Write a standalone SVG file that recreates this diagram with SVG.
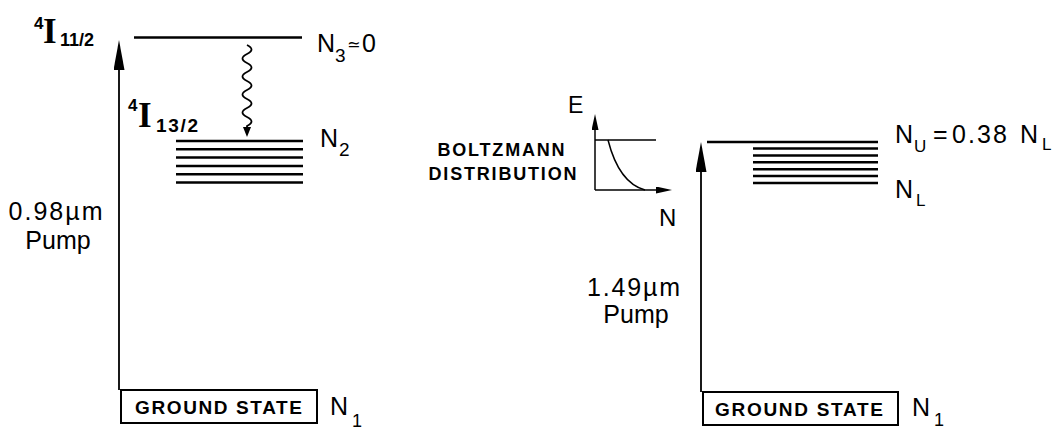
<svg xmlns="http://www.w3.org/2000/svg" width="1063" height="430" viewBox="0 0 1063 430">
<defs>
<style>
.s{font-family:"Liberation Sans",Arial,sans-serif;fill:#000}
.bd{font-weight:bold}
.sr{font-family:"Liberation Serif","Times New Roman",serif;font-weight:bold;fill:#000}
.lvl{stroke:#000;stroke-width:2.5;fill:none}
.ln{stroke:#000;stroke-width:1.8;fill:none}
.thin{stroke:#000;stroke-width:1.5;fill:none}
.box{stroke:#000;stroke-width:2;fill:#fff}
</style>
<marker id="big" markerUnits="userSpaceOnUse" markerWidth="30" markerHeight="11" refX="10" refY="5.5" orient="auto"><path d="M0,0 L30,5.5 L0,11 Z" fill="#000"/></marker>
<marker id="sm" markerUnits="userSpaceOnUse" markerWidth="16" markerHeight="7" refX="8" refY="3.5" orient="auto"><path d="M0,0 L16,3.5 L0,7 Z" fill="#000"/></marker>
<marker id="wv" markerUnits="userSpaceOnUse" markerWidth="10" markerHeight="8" refX="1" refY="4" orient="auto"><path d="M0,0 L10,4 L0,8 Z" fill="#000"/></marker>
</defs>
<rect width="1063" height="430" fill="#fff"/>

<!-- LEFT DIAGRAM -->
<g id="level-4I11">
<text class="s bd" x="34" y="29" font-size="17">4</text>
<text class="sr" x="43" y="43" font-size="35">I</text>
<text class="s bd" x="60" y="46" font-size="18" textLength="34">11/2</text>
<line class="lvl" x1="134" y1="37.5" x2="302" y2="37.5"/>
<text class="s" font-size="25"><tspan x="317" y="52">N</tspan><tspan x="335" y="62" font-size="19">3</tspan><tspan x="347" y="50" font-size="16" font-family="DejaVu Sans, sans-serif">≃</tspan><tspan x="362" y="52">0</tspan></text>
</g>

<g id="level-4I13">
<text class="s bd" x="128" y="111" font-size="17">4</text>
<text class="sr" x="138" y="127" font-size="35">I</text>
<text class="s bd" x="156" y="132" font-size="19" textLength="42">13/2</text>
<g class="lvl">
<line x1="176" y1="141" x2="303" y2="141"/>
<line x1="176" y1="149.3" x2="303" y2="149.3"/>
<line x1="176" y1="157.6" x2="303" y2="157.6"/>
<line x1="176" y1="165.9" x2="303" y2="165.9"/>
<line x1="176" y1="174.2" x2="303" y2="174.2"/>
<line x1="176" y1="182.5" x2="303" y2="182.5"/>
</g>
<text class="s" font-size="25"><tspan x="320" y="147">N</tspan><tspan x="339" y="156" font-size="19">2</tspan></text>
</g>

<g id="ground-left">
<rect class="box" x="121" y="390" width="196" height="33"/>
<text class="s bd" x="135" y="414" font-size="19" textLength="167">GROUND STATE</text>
<text class="s" font-size="25"><tspan x="330" y="415">N</tspan><tspan x="352" y="427" font-size="18">1</tspan></text>
</g>

<g id="pump-left-label">
<text class="s" x="55.5" y="220" font-size="25" text-anchor="middle" textLength="94">0.98µm</text>
<text class="s" x="58" y="249" font-size="25" text-anchor="middle">Pump</text>
</g>

<!-- RIGHT DIAGRAM -->
<g id="boltzmann">
<text class="s bd" x="501" y="156" font-size="18" text-anchor="middle" textLength="127">BOLTZMANN</text>
<text class="s bd" x="502.5" y="180" font-size="18" text-anchor="middle" textLength="148">DISTRIBUTION</text>
<text class="s" x="568" y="113" font-size="23">E</text>
<line class="thin" x1="595" y1="190" x2="595" y2="122" marker-end="url(#sm)"/>
<line class="thin" x1="595" y1="190" x2="664" y2="190" marker-end="url(#sm)"/>
<line class="thin" x1="595" y1="140" x2="656" y2="140"/>
<path class="thin" d="M608,140 Q619,183 645,190"/>
<text class="s" x="659" y="226" font-size="24">N</text>
</g>

<g id="levels-right">
<line class="lvl" x1="707" y1="142" x2="878" y2="142"/>
<g class="lvl">
<line x1="753" y1="148.5" x2="878" y2="148.5"/>
<line x1="753" y1="155.4" x2="878" y2="155.4"/>
<line x1="753" y1="162.3" x2="878" y2="162.3"/>
<line x1="753" y1="169.2" x2="878" y2="169.2"/>
<line x1="753" y1="176.1" x2="878" y2="176.1"/>
<line x1="753" y1="183" x2="878" y2="183"/>
</g>
<text class="s" font-size="25"><tspan x="895" y="143">N</tspan><tspan x="914" y="152" font-size="17">U</tspan><tspan x="933" y="143">=</tspan><tspan x="952" y="143" textLength="55">0.38</tspan><tspan x="1020" y="143">N</tspan><tspan x="1042" y="150" font-size="17">L</tspan></text>
<text class="s" font-size="25"><tspan x="895" y="198">N</tspan><tspan x="916" y="206" font-size="17">L</tspan></text>
</g>

<g id="ground-right">
<rect class="box" x="703" y="392" width="195" height="33"/>
<text class="s bd" x="715" y="416" font-size="19" textLength="168">GROUND STATE</text>
<text class="s" font-size="25"><tspan x="912" y="416">N</tspan><tspan x="934" y="426" font-size="18">1</tspan></text>
</g>

<g id="pump-right-label">
<text class="s" x="633.5" y="296" font-size="25" text-anchor="middle" textLength="93">1.49µm</text>
<text class="s" x="636" y="323" font-size="25" text-anchor="middle">Pump</text>
</g>

<!-- CONNECTORS -->
<g id="connectors">
<line class="ln" x1="119" y1="390" x2="119" y2="60" marker-end="url(#big)"/>
<path class="ln" d="M247,45 q9,4.5 0,9 t0,9 t0,9 t0,9 t0,9 t0,9 t0,9 t0,9 t0,9 v2" marker-end="url(#wv)"/>
<line class="ln" x1="701" y1="392" x2="701" y2="162" marker-end="url(#big)"/>
</g>
</svg>
